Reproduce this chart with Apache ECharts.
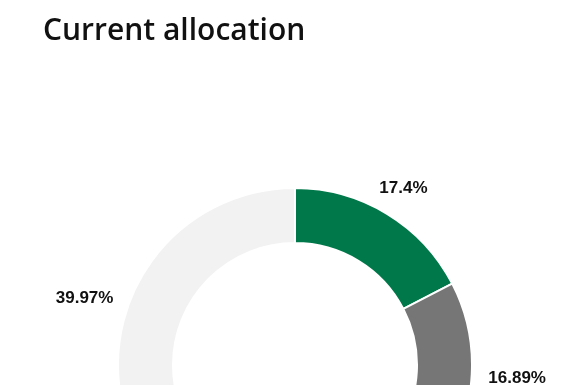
<!DOCTYPE html>
<html>
<head>
<meta charset="utf-8">
<script src="https://cdn.jsdelivr.net/npm/echarts@6/dist/echarts.min.js"></script>
<style>
html,body{margin:0;padding:0;background:#fff;}
#c{width:573px;height:385px;}
</style>
</head>
<body>
<div id="c"></div>
<script>
var categories = ['A', 'B', 'C', 'D'];
var values = [17.4, 16.89, 25.74, 39.97];
var labels = ['17.4%', '16.89%', '25.74%', '39.97%'];
var colors = ['#00784a', '#767676', '#1a4d7a', '#f2f2f2'];

var CX = 295, CY = 365, R_IN = 122, R_OUT = 177, GAP = 198, K = 0.85;
var total = values.reduce(function (a, b) { return a + b; }, 0);

function midAngle(i) {
  var s = 0;
  for (var k = 0; k < i; k++) s += values[k];
  return (s + values[i] / 2) / total * 2 * Math.PI;
}

var chart = echarts.init(document.getElementById('c'), null, {renderer: 'canvas'});
chart.setOption({
  animation: false,
  title: {
    text: 'Current allocation',
    left: 38, top: 11,
    textStyle: {fontFamily: 'Open Sans', fontSize: 30, fontWeight: 600, color: '#111111'}
  },
  series: [{
    type: 'pie',
    center: [CX, CY],
    radius: [R_IN, R_OUT],
    startAngle: 90,
    clockwise: true,
    itemStyle: {borderColor: '#fff', borderWidth: 2},
    label: {
      show: true,
      position: 'outside',
      fontFamily: 'Liberation Sans, Arial',
      fontWeight: 'bold',
      fontSize: 17,
      color: '#111111',
      formatter: function (p) { return labels[p.dataIndex]; }
    },
    labelLine: {show: false},
    labelLayout: function (p) {
      var a = midAngle(p.dataIndex);
      var ux = Math.sin(a), uy = -Math.cos(a);
      var w = p.labelRect.width / 2;
      var d = GAP + K * Math.abs(ux) * w;
      return {x: CX + ux * d, y: CY + uy * d + 2, align: 'center', verticalAlign: 'middle'};
    },
    data: categories.map(function (c, i) {
      return {name: c, value: values[i], itemStyle: {color: colors[i]}};
    })
  }]
});
</script>
</body>
</html>
